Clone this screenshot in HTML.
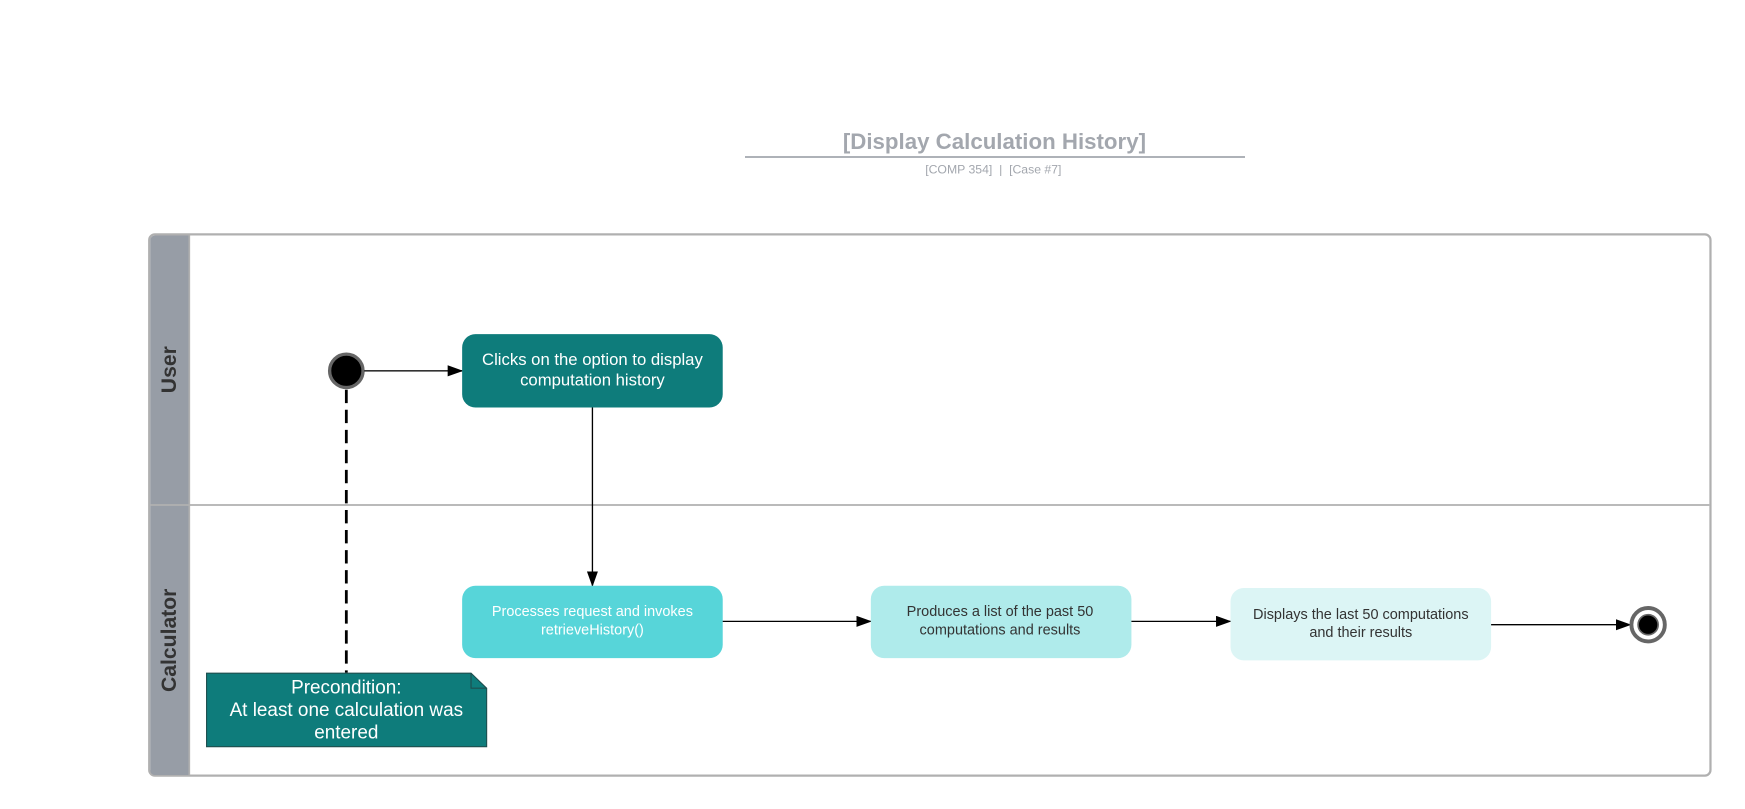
<!DOCTYPE html>
<html><head><meta charset="utf-8"><style>
html,body{margin:0;padding:0;background:#fff;}
svg{display:block;font-family:"Liberation Sans",Arial,sans-serif;}
</style></head><body>
<svg width="1745" height="809" viewBox="0 0 1567 726.5" preserveAspectRatio="none" xmlns="http://www.w3.org/2000/svg">
<defs>
<marker id="a" markerWidth="14" markerHeight="10" refX="13" refY="5" orient="auto" markerUnits="userSpaceOnUse">
<path d="M0,0 L14,5 L0,10 z" fill="#000"/>
</marker>
</defs>
<text x="893" y="134" text-anchor="middle" font-size="20" font-weight="bold" fill="#a3a7ae">[Display Calculation History]</text>
<line x1="669" y1="141" x2="1118" y2="141" stroke="#a3a7ae" stroke-width="1.5"/>
<text x="892" y="156" text-anchor="middle" font-size="11" fill="#a3a7ae">[COMP 354]&#160;&#160;|&#160;&#160;[Case #7]</text>

<rect x="134" y="210.5" width="1402" height="486" rx="5" fill="#fff" stroke="#b0b0b0" stroke-width="2"/>
<path d="M139,211.5 H170 V696 H139 a4,4 0 0 1 -4,-4 V215.5 a4,4 0 0 1 4,-4 z" fill="#979da6"/>
<line x1="170" y1="211" x2="170" y2="696" stroke="#b0b0b0" stroke-width="1.5"/>
<line x1="135" y1="453.5" x2="1535" y2="453.5" stroke="#b0b0b0" stroke-width="1.5"/>
<text transform="translate(158,332) rotate(-90)" text-anchor="middle" font-size="19" font-weight="bold" fill="#333">User</text>
<text transform="translate(158,575) rotate(-90)" text-anchor="middle" font-size="19" font-weight="bold" fill="#333">Calculator</text>

<line x1="311" y1="350" x2="311" y2="604" stroke="#000" stroke-width="2.5" stroke-dasharray="12,6"/>
<circle cx="311" cy="333" r="15" fill="#000" stroke="#666" stroke-width="3"/>
<line x1="327" y1="333" x2="415" y2="333" stroke="#333" stroke-width="1.5" marker-end="url(#a)"/>

<rect x="415" y="300" width="234" height="66" rx="12" fill="#0e7c7b"/>
<text x="532" y="328" text-anchor="middle" font-size="15" fill="#fff">Clicks on the option to display</text>
<text x="532" y="346" text-anchor="middle" font-size="15" fill="#fff">computation history</text>

<line x1="532" y1="366" x2="532" y2="526" stroke="#000" stroke-width="1.2" marker-end="url(#a)"/>

<rect x="415" y="526" width="234" height="65" rx="12" fill="#57d5d9"/>
<text x="532" y="553" text-anchor="middle" font-size="13" fill="#fff">Processes request and invokes</text>
<text x="532" y="570" text-anchor="middle" font-size="13" fill="#fff">retrieveHistory()</text>

<line x1="649" y1="558" x2="782" y2="558" stroke="#000" stroke-width="1.2" marker-end="url(#a)"/>

<rect x="782" y="526" width="234" height="65" rx="12" fill="#afebeb"/>
<text x="898" y="553" text-anchor="middle" font-size="13" fill="#333">Produces a list of the past 50</text>
<text x="898" y="570" text-anchor="middle" font-size="13" fill="#333">computations and results</text>

<line x1="1016" y1="558" x2="1105" y2="558" stroke="#000" stroke-width="1.2" marker-end="url(#a)"/>

<rect x="1105" y="528" width="234" height="65" rx="12" fill="#dcf5f5"/>
<text x="1222" y="556" text-anchor="middle" font-size="13" fill="#333">Displays the last 50 computations</text>
<text x="1222" y="572" text-anchor="middle" font-size="13" fill="#333">and their results</text>

<line x1="1339" y1="561" x2="1464" y2="561" stroke="#000" stroke-width="1.2" marker-end="url(#a)"/>
<circle cx="1480" cy="561" r="15" fill="#fff" stroke="#666" stroke-width="3.5"/>
<circle cx="1480" cy="561" r="9" fill="#000" stroke="#666" stroke-width="1.5"/>

<path d="M185.5,604.5 H423 L437,618 V670.5 H185.5 z" fill="#0e7c7b" stroke="#1e4e4e" stroke-width="1"/>
<path d="M423,604.5 V618 H437" fill="none" stroke="#1e4e4e" stroke-width="1"/>
<text x="311" y="623" text-anchor="middle" font-size="17" fill="#fff">Precondition:</text>
<text x="311" y="643" text-anchor="middle" font-size="17" fill="#fff">At least one calculation was</text>
<text x="311" y="663" text-anchor="middle" font-size="17" fill="#fff">entered</text>
</svg>
</body></html>
